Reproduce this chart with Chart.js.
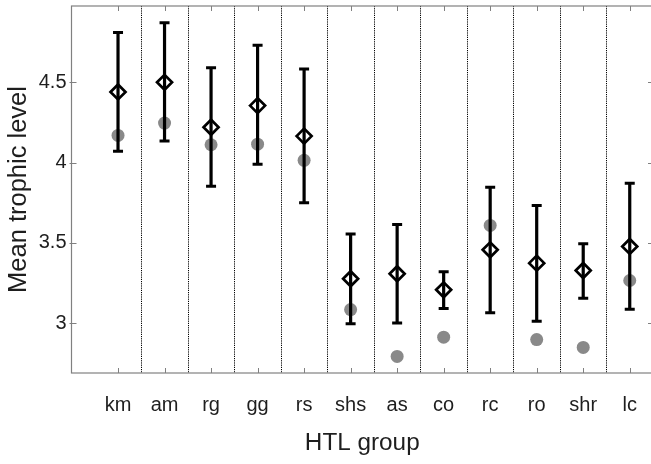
<!DOCTYPE html>
<html>
<head>
<meta charset="utf-8">
<script src="https://cdn.jsdelivr.net/npm/chart.js@4/dist/chart.umd.min.js"></script>
<style>
  html, body { margin: 0; padding: 0; background: #fff; overflow: hidden; }
  #wrap { position: relative; width: 653px; height: 464px; }
</style>
</head>
<body>
<div id="wrap"><canvas id="c"></canvas></div>
<script>
// ---- data ----
const categories = ['km','am','rg','gg','rs','shs','as','co','rc','ro','shr','lc'];
const meanTL   = [4.44, 4.50, 4.22, 4.355, 4.165, 3.277, 3.308, 3.208, 3.457, 3.374, 3.328, 3.478];
const upperTL  = [4.81, 4.87, 4.59, 4.73, 4.583, 3.555, 3.615, 3.32, 3.847, 3.733, 3.495, 3.872];
const lowerTL  = [4.07, 4.134, 3.852, 3.989, 3.75, 2.996, 3.002, 3.092, 3.065, 3.012, 3.156, 3.087];
const grayTL   = [4.169, 4.246, 4.111, 4.115, 4.014, 3.085, 2.793, 2.913, 3.609, 2.898, 2.849, 3.266];
const yTicks   = [3, 3.5, 4, 4.5];
const separators = [1.5, 2.5, 3.5, 4.5, 5.5, 6.5, 7.5, 8.5, 9.5, 10.5, 11.5];

const FONT = '"Liberation Sans", Arial, Helvetica, sans-serif';
const TXT = '#1e1e1e';
const AXIS = '#808080';

const pos = categories.map((c, i) => i + 1);

const barPts = [];
pos.forEach((x, i) => {
  barPts.push({x, y: lowerTL[i]}, {x, y: upperTL[i]}, {x, y: null});
});
const capPts = [];
pos.forEach((x, i) => { capPts.push({x, y: lowerTL[i]}, {x, y: upperTL[i]}); });

const framePlugin = {
  id: 'frame',
  beforeDatasetsDraw(chart) {
    const {ctx, chartArea: a, scales: {x, y}} = chart;
    ctx.save();
    // dotted separators
    ctx.strokeStyle = '#000';
    ctx.lineWidth = 1;
    ctx.setLineDash([1.2, 1]);
    separators.forEach(s => {
      const px = Math.round(x.getPixelForValue(s)) + 0.5;
      ctx.beginPath(); ctx.moveTo(px, a.top); ctx.lineTo(px, a.bottom); ctx.stroke();
    });
    ctx.setLineDash([]);
    // box
    ctx.strokeStyle = AXIS;
    ctx.lineWidth = 1.2;
    ctx.strokeRect(a.left, a.top, a.right - a.left, a.bottom - a.top);
    // inward ticks
    const tl = 5;
    ctx.lineWidth = 1;
    pos.forEach(v => {
      const px = Math.round(x.getPixelForValue(v)) + 0.5;
      ctx.beginPath(); ctx.moveTo(px, a.bottom); ctx.lineTo(px, a.bottom - tl); ctx.stroke();
      ctx.beginPath(); ctx.moveTo(px, a.top); ctx.lineTo(px, a.top + tl); ctx.stroke();
    });
    yTicks.forEach(v => {
      const py = Math.round(y.getPixelForValue(v)) + 0.5;
      ctx.beginPath(); ctx.moveTo(a.left - 2, py); ctx.lineTo(a.left + tl, py); ctx.stroke();
      ctx.beginPath(); ctx.moveTo(a.right, py); ctx.lineTo(a.right - tl, py); ctx.stroke();
    });
    ctx.restore();
  }
};

new Chart(document.getElementById('c'), {
  type: 'scatter',
  data: {
    datasets: [
      {
        label: 'mean',
        data: meanTL.map((v, i) => ({x: pos[i], y: v})),
        pointStyle: 'rectRot',
        pointRadius: 7.5,
        borderWidth: 2.7,
        borderColor: '#000',
        backgroundColor: 'rgba(0,0,0,0)',
        order: 1
      },
      {
        label: 'caps',
        data: capPts,
        pointStyle: 'line',
        pointRadius: 5,
        borderWidth: 3,
        borderColor: '#000',
        backgroundColor: '#000',
        order: 2
      },
      {
        label: 'range',
        data: barPts,
        showLine: true,
        spanGaps: false,
        pointRadius: 0,
        borderWidth: 3.2,
        borderColor: '#000',
        order: 3
      },
      {
        label: 'other',
        data: grayTL.map((v, i) => ({x: pos[i], y: v})),
        pointStyle: 'circle',
        pointRadius: 6.5,
        borderWidth: 0,
        backgroundColor: '#898989',
        order: 4
      }
    ]
  },
  options: {
    responsive: true,
    maintainAspectRatio: false,
    animation: false,
    events: [],
    layout: { autoPadding: false, padding: { top: 6, left: 0, right: 0, bottom: 0 } },
    plugins: { legend: { display: false }, tooltip: { enabled: false } },
    scales: {
      x: {
        type: 'linear',
        min: 0,
        max: 12.5,
        afterFit(s) { s.height = 91; s.paddingLeft = 0; s.paddingRight = 0; },
        afterBuildTicks(s) { s.ticks = pos.map(v => ({value: v})); },
        grid: { display: false, drawTicks: false },
        border: { display: false },
        ticks: {
          autoSkip: false,
          maxRotation: 0,
          padding: 20,
          color: TXT,
          font: { family: FONT, size: 20 },
          callback: v => categories[v - 1] || ''
        },
        title: {
          display: true,
          text: 'HTL group',
          color: TXT,
          font: { family: FONT, size: 24.3 },
          padding: { top: 0, bottom: 6 }
        }
      },
      y: {
        min: 2.69,
        max: 4.975,
        afterFit(s) { s.width = 71.5; s.paddingTop = 0; s.paddingBottom = 0; },
        afterBuildTicks(s) { s.ticks = yTicks.map(v => ({value: v})); },
        grid: { display: false, drawTicks: false },
        border: { display: false },
        ticks: {
          padding: 5,
          color: TXT,
          font: { family: FONT, size: 20 },
          callback: v => String(v)
        },
        title: {
          display: true,
          text: 'Mean trophic level',
          color: TXT,
          font: { family: FONT, size: 25.5 },
          padding: { top: 4, bottom: 0 }
        }
      }
    }
  },
  plugins: [framePlugin]
});
</script>
</body>
</html>
